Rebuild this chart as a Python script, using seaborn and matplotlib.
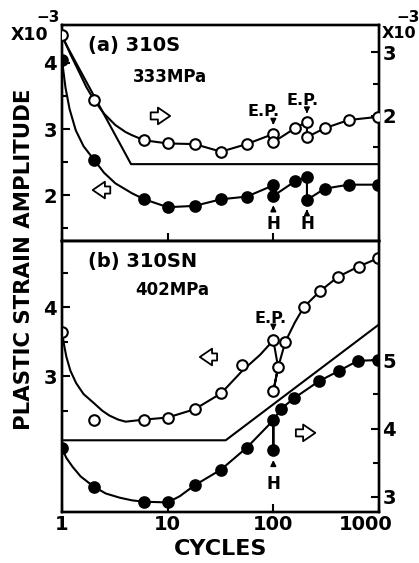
import matplotlib
matplotlib.use("Agg")
import matplotlib.pyplot as plt
import matplotlib.transforms as mtransforms
import seaborn as sns
import pandas as pd

# ---------------- data ----------------
# Panel (a) 310S, 333 MPa
a_open_cyc = [1, 2, 6, 10, 18, 32, 56, 100, 100, 160, 208, 208, 306, 516, 980]
a_open_amp = [3.27, 2.25, 1.61, 1.56, 1.55, 1.43, 1.55, 1.71, 1.58, 1.80, 1.90, 1.66, 1.80, 1.93, 1.98]
a_open_curve_cyc = [1, 1.2, 1.45, 1.7, 2, 2.5, 3.2, 4.0, 4.6, 6, 10, 18, 32, 56, 100, 100, 160, 208, 208, 306, 516, 980]
a_open_curve_amp = [3.27, 2.97, 2.69, 2.45, 2.25, 2.03, 1.85, 1.74, 1.69, 1.61, 1.56, 1.55, 1.43, 1.55, 1.71, 1.58, 1.80, 1.90, 1.66, 1.80, 1.93, 1.98]

a_fill_cyc = [1, 2, 6, 10, 18, 32, 56, 100, 100, 160, 208, 208, 306, 516, 980]
a_fill_amp = [4.04, 2.54, 1.94, 1.82, 1.84, 1.94, 1.98, 2.15, 1.99, 2.21, 2.28, 1.93, 2.10, 2.16, 2.16]
a_fill_curve_cyc = [1, 1.08, 1.18, 1.35, 1.6, 2, 2.5, 3.2, 4.6, 6, 10, 18, 32, 56, 100, 100, 160, 208, 208, 306, 516, 980]
a_fill_curve_amp = [4.04, 3.62, 3.30, 2.98, 2.74, 2.54, 2.34, 2.18, 2.03, 1.94, 1.82, 1.84, 1.94, 1.98, 2.15, 1.99, 2.21, 2.28, 1.93, 2.10, 2.16, 2.16]

a_ref_cyc = [1, 4.5, 1000]
a_ref_amp = [4.39, 2.47, 2.47]

# Panel (b) 310SN, 402 MPa
b_open_cyc = [1, 2, 6, 10, 18, 32, 51, 100, 100, 111, 130, 194, 275, 409, 641, 980]
b_open_amp = [3.64, 2.36, 2.37, 2.40, 2.52, 2.75, 3.16, 3.52, 2.78, 3.13, 3.50, 4.00, 4.23, 4.44, 4.59, 4.71]
b_open_curve1_cyc = [1, 1.05, 1.1, 1.2, 1.36, 1.6, 2, 2.4, 2.8, 3.4, 4.0, 6, 10, 18, 32, 51, 75, 100]
b_open_curve1_amp = [3.64, 3.44, 3.28, 3.08, 2.90, 2.74, 2.61, 2.50, 2.43, 2.37, 2.34, 2.37, 2.40, 2.52, 2.75, 3.08, 3.31, 3.52]
b_open_curve2_cyc = [100, 111, 100, 111, 130, 160, 194, 275, 409, 641, 980]
b_open_curve2_amp = [3.52, 3.13, 2.78, 3.13, 3.50, 3.78, 4.00, 4.23, 4.44, 4.59, 4.71]

b_fill_cyc = [1, 2, 6, 10, 18, 32, 56, 100, 100, 117, 156, 269, 415, 631, 980]
b_fill_amp = [3.71, 3.15, 2.93, 2.92, 3.17, 3.40, 3.72, 4.12, 3.68, 4.28, 4.44, 4.69, 4.84, 4.99, 5.00]
b_fill_curve_cyc = [1, 1.1, 1.26, 1.5, 2, 2.6, 3.5, 4.6, 6, 10, 13, 18, 32, 56, 100, 100, 100, 117, 156, 269, 415, 631, 980]
b_fill_curve_amp = [3.71, 3.57, 3.44, 3.30, 3.15, 3.05, 2.99, 2.95, 2.93, 2.92, 3.01, 3.17, 3.40, 3.72, 4.12, 3.68, 4.12, 4.28, 4.44, 4.69, 4.84, 4.99, 5.00]

b_ref_cyc = [1, 35.4, 1000]
b_ref_amp = [2.07, 2.07, 3.75]

x_ticks = [1, 10, 100, 1000]
x_ticklabels = ["1", "10", "100", "1000"]

# ---------------- figure ----------------
sns.set_style("ticks")
plt.rcParams["font.family"] = ["DejaVu Sans"]
plt.rcParams.update({
    "font.weight": "bold",
    "axes.labelweight": "bold",
    "axes.linewidth": 1.7,
    "text.color": "black",
    "axes.labelcolor": "black",
    "axes.edgecolor": "black",
    "xtick.color": "black",
    "ytick.color": "black",
})

W, H = 419, 563
fig = plt.figure(figsize=(W / 100, H / 100), dpi=100)
gs = fig.add_gridspec(2, 1, height_ratios=[216, 271], hspace=0,
                      left=62 / W, right=379 / W, top=1 - 25 / H, bottom=1 - 512 / H)
axa = fig.add_subplot(gs[0])
axb = fig.add_subplot(gs[1], sharex=axa)
axa2 = axa.twinx()
axb2 = axb.twinx()

LW = 1.5
MS = 58


def curve(ax, xs, ys):
    df = pd.DataFrame({"x": xs, "y": ys})
    sns.lineplot(data=df, x="x", y="y", ax=ax, sort=False, estimator=None,
                 color="black", lw=LW, legend=False)


def pts(ax, xs, ys, filled):
    df = pd.DataFrame({"x": xs, "y": ys})
    sns.scatterplot(data=df, x="x", y="y", ax=ax, marker="o", s=MS,
                    facecolor="black" if filled else "white",
                    edgecolor="black", linewidth=1.5, zorder=5, legend=False)


# panel (a)
curve(axa, a_ref_cyc, a_ref_amp)
curve(axa, a_fill_curve_cyc, a_fill_curve_amp)
pts(axa, a_fill_cyc, a_fill_amp, True)
curve(axa2, a_open_curve_cyc, a_open_curve_amp)
pts(axa2, a_open_cyc, a_open_amp, False)

# panel (b)
curve(axb, b_ref_cyc, b_ref_amp)
curve(axb, b_open_curve1_cyc, b_open_curve1_amp)
curve(axb, b_open_curve2_cyc, b_open_curve2_amp)
pts(axb, b_open_cyc, b_open_amp, False)
curve(axb2, b_fill_curve_cyc, b_fill_curve_amp)
pts(axb2, b_fill_cyc, b_fill_amp, True)

for ax in (axa, axb, axa2, axb2):
    ax.set_xscale("log")
    ax.set_xlim(1, 1000)
    ax.set_xlabel("")
    ax.set_ylabel("")
    ax.minorticks_off()
    for s in ax.spines.values():
        s.set_linewidth(1.7)
        s.set_color("black")

axa.set_ylim(1.31, 4.57)
axa2.set_ylim(0.02, 3.43)
axb.set_ylim(1.03, 4.96)
axb2.set_ylim(2.78, 6.74)

axa.set_yticks([2, 3, 4])
axa.set_yticks([1.5, 2.5, 3.5], minor=True)
axa2.set_yticks([2, 3])
axa2.set_yticks([1.5, 2.5], minor=True)
axb.set_yticks([3, 4])
axb.set_yticks([2.5, 3.5, 4.5], minor=True)
axb2.set_yticks([3, 4, 5])
axb2.set_yticks([3.5, 4.5], minor=True)

for ax in (axa, axb):
    ax.set_xticks(x_ticks)
    ax.set_xticklabels(x_ticklabels)
    ax.tick_params(axis="x", which="major", direction="in", length=6, width=1.5,
                   labelsize=14, pad=2, top=False, colors="black")
    ax.tick_params(axis="y", which="major", direction="in", length=6, width=1.5,
                   labelsize=14, pad=3.5, colors="black")
    ax.tick_params(axis="y", which="minor", direction="in", length=4, width=1.5, colors="black")
for ax in (axa2, axb2):
    ax.tick_params(axis="y", which="major", direction="in", length=6, width=1.5,
                   labelsize=14, pad=2.5, colors="black")
    ax.tick_params(axis="y", which="minor", direction="in", length=4, width=1.5, colors="black")
    ax.tick_params(axis="x", which="both", bottom=False, top=False)
axa.tick_params(axis="x", labelbottom=False)

# shift the "1000" label left as in the original
lab = axb.get_xticklabels()[-1]
lab.set_transform(lab.get_transform() + mtransforms.ScaledTranslation(-13 / 100, 0, fig.dpi_scale_trans))

axb.set_xlabel("CYCLES", fontsize=16, labelpad=4, color="black", fontweight="bold")
fig.text(24 / W, 1 - 259 / H, "PLASTIC STRAIN AMPLITUDE", rotation=90,
         ha="center", va="center", fontsize=15.3)

# exponent labels
fig.text(11 / W, 1 - 40 / H, "X10", ha="left", va="baseline", fontsize=12.5)
fig.text(48 / W, 1 - 17 / H, "\u22123", ha="center", va="center", fontsize=11)
fig.text(382 / W, 1 - 38 / H, "X10", ha="left", va="baseline", fontsize=11.5)
fig.text(408 / W, 1 - 17 / H, "\u22123", ha="center", va="center", fontsize=11)

# panel titles
axa.text(0.082, 0.907, "(a) 310S", transform=axa.transAxes, fontsize=14, va="center", ha="left")
axa.text(0.224, 0.759, "333MPa", transform=axa.transAxes, fontsize=12, va="center", ha="left")
axb.text(0.082, 0.923, "(b) 310SN", transform=axb.transAxes, fontsize=14, va="center", ha="left")
axb.text(0.23, 0.819, "402MPa", transform=axb.transAxes, fontsize=12, va="center", ha="left")

# hollow block arrows showing which axis applies
hollow = dict(arrowstyle="simple,head_length=0.55,head_width=0.75,tail_width=0.32",
              fc="white", ec="black", lw=1.3, mutation_scale=16)
axa.annotate("", xy=(0.35, 0.579), xytext=(0.271, 0.579), xycoords="axes fraction",
             textcoords="axes fraction", arrowprops=hollow)
axa.annotate("", xy=(0.088, 0.236), xytext=(0.161, 0.236), xycoords="axes fraction",
             textcoords="axes fraction", arrowprops=hollow)
axb.annotate("", xy=(0.426, 0.572), xytext=(0.498, 0.572), xycoords="axes fraction",
             textcoords="axes fraction", arrowprops=hollow)
axb.annotate("", xy=(0.808, 0.292), xytext=(0.729, 0.292), xycoords="axes fraction",
             textcoords="axes fraction", arrowprops=hollow)

# E.P. and H markers
small = dict(arrowstyle="-|>", color="black", lw=1.2, mutation_scale=8)
axa2.text(81, 2.06, "E.P.", fontsize=11.5, ha="center", va="center")
axa2.annotate("", xy=(100, 1.81), xytext=(100, 1.94), arrowprops=small)
axa2.text(190, 2.24, "E.P.", fontsize=11.5, ha="center", va="center")
axa2.annotate("", xy=(208, 1.99), xytext=(208, 2.12), arrowprops=small)
axa.text(100, 1.56, "H", fontsize=12, ha="center", va="center")
axa.annotate("", xy=(100, 1.89), xytext=(100, 1.75), arrowprops=small)
axa.text(208, 1.56, "H", fontsize=12, ha="center", va="center")
axa.annotate("", xy=(208, 1.83), xytext=(208, 1.70), arrowprops=small)

axb.text(94, 3.83, "E.P.", fontsize=11.5, ha="center", va="center")
axb.annotate("", xy=(100, 3.62), xytext=(100, 3.75), arrowprops=small)
axb2.text(100, 3.19, "H", fontsize=12, ha="center", va="center")
axb2.annotate("", xy=(100, 3.58), xytext=(100, 3.43), arrowprops=small)

fig.savefig("out.png", dpi=100)
